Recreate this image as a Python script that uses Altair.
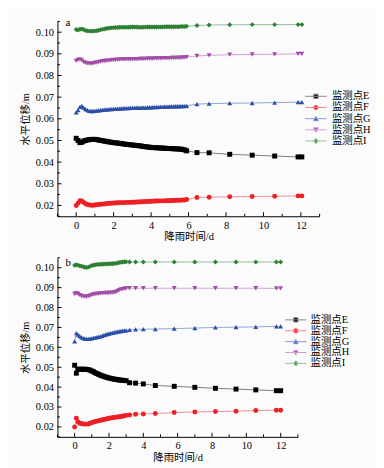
import altair as alt
import pandas as pd

FONT = "Liberation Serif, Noto Sans CJK SC"

series_names = ["监测点E", "监测点F", "监测点G", "监测点H", "监测点I"]
marker_colors = ["#000000", "#ee1f25", "#2c4fa6", "#a24ea8", "#2f7f35"]
line_colors = ["#8a8a8a", "#f48a8e", "#8a9ad6", "#cf9fd3", "#93c197"]
marker_shapes = ["square", "circle", "triangle-up", "triangle-down", "diamond"]
legend_shapes = [
    "M-3.6,0H3.6M-0.72,-0.72H0.72V0.72H-0.72Z",
    "M-3.6,0H3.6M-0.78,0A0.78,0.78,0,1,1,0.78,0A0.78,0.78,0,1,1,-0.78,0Z",
    "M-3.6,0H3.6M0,-0.8L0.8,0.7H-0.8Z",
    "M-3.6,0H3.6M0,0.8L0.8,-0.7H-0.8Z",
    "M-3.6,0H3.6M0,-0.88L0.72,0L0,0.88L-0.72,0Z",
]

x_major = [0, 2, 4, 6, 8, 10, 12]
x_minor = [-1, 1, 3, 5, 7, 9, 11, 13]
y_major = [0.02, 0.03, 0.04, 0.05, 0.06, 0.07, 0.08, 0.09, 0.10]
y_minor = [0.015, 0.025, 0.035, 0.045, 0.055, 0.065, 0.075, 0.085, 0.095, 0.105]

# ---------------- panel a ----------------
t_a = [0.0, 0.1, 0.2, 0.3, 0.4, 0.5, 0.6, 0.7, 0.8, 0.9,
       1.0, 1.1, 1.2, 1.3, 1.4, 1.5, 1.6, 1.7, 1.8, 1.9,
       2.0, 2.1, 2.2, 2.3, 2.4, 2.5, 2.6, 2.7, 2.8, 2.9,
       3.0, 3.1, 3.2, 3.3, 3.4, 3.5, 3.6, 3.7, 3.8, 3.9,
       4.0, 4.1, 4.2, 4.3, 4.4, 4.5, 4.6, 4.7, 4.8, 4.9,
       5.0, 5.1, 5.2, 5.3, 5.4, 5.5, 5.6, 5.7, 5.8, 5.9,
       6.45, 7.1, 8.2, 9.4, 10.6, 11.85, 12.05]
E_a = [0.0510, 0.0500, 0.0490, 0.0492, 0.0497, 0.0500, 0.0502, 0.0504, 0.0505, 0.0505,
       0.0505, 0.0504, 0.0502, 0.0500, 0.0499, 0.0497, 0.0496, 0.0494, 0.0493, 0.0491,
       0.0490, 0.0489, 0.0488, 0.0487, 0.0486, 0.0484, 0.0483, 0.0482, 0.0481, 0.0480,
       0.0479, 0.0478, 0.0477, 0.0476, 0.0475, 0.0474, 0.0472, 0.0471, 0.0470, 0.0469,
       0.0468, 0.0467, 0.0467, 0.0466, 0.0466, 0.0465, 0.0465, 0.0464, 0.0464, 0.0463,
       0.0463, 0.0462, 0.0462, 0.0461, 0.0461, 0.0460, 0.0460, 0.0458, 0.0456, 0.0452,
       0.0444, 0.0443, 0.0436, 0.0432, 0.0428, 0.0424, 0.0424]
F_a = [0.0200, 0.0210, 0.0222, 0.0220, 0.0214, 0.0208, 0.0204, 0.0202, 0.0201, 0.0201,
       0.0202, 0.0203, 0.0204, 0.0205, 0.0206, 0.0207, 0.0208, 0.0209, 0.0210, 0.0210,
       0.0211, 0.0211, 0.0212, 0.0212, 0.0213, 0.0213, 0.0213, 0.0214, 0.0214, 0.0214,
       0.0215, 0.0215, 0.0216, 0.0216, 0.0216, 0.0217, 0.0217, 0.0218, 0.0218, 0.0218,
       0.0219, 0.0219, 0.0220, 0.0220, 0.0220, 0.0221, 0.0221, 0.0221, 0.0222, 0.0222,
       0.0222, 0.0223, 0.0223, 0.0223, 0.0224, 0.0224, 0.0224, 0.0225, 0.0225, 0.0227,
       0.0237, 0.0238, 0.0240, 0.0241, 0.0242, 0.0244, 0.0244]
G_a = [0.0630, 0.0640, 0.0655, 0.0660, 0.0652, 0.0645, 0.0640, 0.0637, 0.0636, 0.0636,
       0.0637, 0.0638, 0.0639, 0.0640, 0.0641, 0.0642, 0.0643, 0.0644, 0.0645, 0.0645,
       0.0646, 0.0646, 0.0647, 0.0647, 0.0648, 0.0648, 0.0649, 0.0649, 0.0649, 0.0650,
       0.0650, 0.0650, 0.0651, 0.0651, 0.0651, 0.0652, 0.0652, 0.0652, 0.0653, 0.0653,
       0.0653, 0.0654, 0.0654, 0.0654, 0.0655, 0.0655, 0.0655, 0.0656, 0.0656, 0.0656,
       0.0657, 0.0657, 0.0657, 0.0658, 0.0658, 0.0658, 0.0659, 0.0659, 0.0659, 0.0660,
       0.0668, 0.0670, 0.0672, 0.0673, 0.0675, 0.0677, 0.0677]
H_a = [0.0868, 0.0872, 0.0874, 0.0870, 0.0862, 0.0858, 0.0856, 0.0855, 0.0855, 0.0856,
       0.0858, 0.0860, 0.0862, 0.0864, 0.0866, 0.0867, 0.0868, 0.0869, 0.0870, 0.0871,
       0.0872, 0.0872, 0.0873, 0.0873, 0.0874, 0.0874, 0.0874, 0.0875, 0.0875, 0.0875,
       0.0876, 0.0876, 0.0876, 0.0876, 0.0877, 0.0877, 0.0877, 0.0877, 0.0878, 0.0878,
       0.0878, 0.0878, 0.0879, 0.0879, 0.0879, 0.0879, 0.0880, 0.0880, 0.0880, 0.0880,
       0.0880, 0.0881, 0.0881, 0.0881, 0.0881, 0.0882, 0.0882, 0.0883, 0.0884, 0.0885,
       0.0890, 0.0893, 0.0896, 0.0897, 0.0898, 0.0900, 0.0900]
I_a = [0.1012, 0.1010, 0.1014, 0.1015, 0.1012, 0.1008, 0.1006, 0.1005, 0.1005, 0.1005,
       0.1006, 0.1007, 0.1009, 0.1011, 0.1013, 0.1015, 0.1017, 0.1018, 0.1019, 0.1020,
       0.1021, 0.1022, 0.1022, 0.1023, 0.1023, 0.1023, 0.1023, 0.1023, 0.1023, 0.1024,
       0.1024, 0.1024, 0.1024, 0.1023, 0.1023, 0.1023, 0.1023, 0.1024, 0.1024, 0.1024,
       0.1024, 0.1024, 0.1024, 0.1024, 0.1024, 0.1024, 0.1024, 0.1025, 0.1025, 0.1025,
       0.1025, 0.1025, 0.1025, 0.1025, 0.1025, 0.1025, 0.1026, 0.1026, 0.1026, 0.1027,
       0.1031, 0.1033, 0.1034, 0.1035, 0.1035, 0.1035, 0.1035]

# ---------------- panel b ----------------
t_b = [0.0, 0.1, 0.2, 0.3, 0.4, 0.5, 0.6, 0.7, 0.8, 0.9,
       1.0, 1.1, 1.2, 1.3, 1.4, 1.5, 1.6, 1.7, 1.8, 1.9,
       2.0, 2.1, 2.2, 2.3, 2.4, 2.5, 2.6, 2.7, 2.8, 2.9,
       3.0,
       3.2, 3.55, 4.0, 4.7, 5.8, 7.0, 8.2, 9.4, 10.55, 11.75, 12.0]
E_b = [0.0510, 0.0470, 0.0490, 0.0490, 0.0489, 0.0490, 0.0490, 0.0489, 0.0488, 0.0485,
       0.0481, 0.0477, 0.0472, 0.0468, 0.0464, 0.0460, 0.0457, 0.0454, 0.0451, 0.0448,
       0.0446, 0.0444, 0.0442, 0.0440, 0.0439, 0.0437, 0.0436, 0.0435, 0.0434, 0.0433,
       0.0432,
       0.0422, 0.0420, 0.0416, 0.0408, 0.0404, 0.0399, 0.0394, 0.0390, 0.0386, 0.0382, 0.0382]
F_b = [0.0200, 0.0244, 0.0225, 0.0218, 0.0216, 0.0215, 0.0214, 0.0214, 0.0215, 0.0218,
       0.0221, 0.0224, 0.0227, 0.0229, 0.0231, 0.0233, 0.0235, 0.0237, 0.0239, 0.0241,
       0.0243, 0.0245, 0.0246, 0.0247, 0.0249, 0.0250, 0.0251, 0.0252, 0.0254, 0.0256,
       0.0258,
       0.0260, 0.0264, 0.0265, 0.0267, 0.0272, 0.0275, 0.0277, 0.0279, 0.0282, 0.0284, 0.0284]
G_b = [0.0630, 0.0671, 0.0664, 0.0656, 0.0650, 0.0646, 0.0644, 0.0643, 0.0643, 0.0644,
       0.0645, 0.0647, 0.0649, 0.0651, 0.0653, 0.0655, 0.0658, 0.0661, 0.0664, 0.0667,
       0.0669, 0.0671, 0.0673, 0.0675, 0.0677, 0.0679, 0.0680, 0.0682, 0.0683, 0.0684,
       0.0685,
       0.0688, 0.0690, 0.0691, 0.0692, 0.0694, 0.0697, 0.0700, 0.0701, 0.0703, 0.0705, 0.0705]
H_b = [0.0868, 0.0872, 0.0868, 0.0862, 0.0858, 0.0856, 0.0855, 0.0855, 0.0857, 0.0860,
       0.0863, 0.0866, 0.0868, 0.0869, 0.0870, 0.0871, 0.0872, 0.0872, 0.0873, 0.0873,
       0.0874, 0.0874, 0.0875, 0.0876, 0.0878, 0.0883, 0.0888, 0.0891, 0.0893, 0.0895,
       0.0896,
       0.0897, 0.0897, 0.0897, 0.0897, 0.0897, 0.0897, 0.0897, 0.0897, 0.0897, 0.0896, 0.0896]
I_b = [0.1013, 0.1015, 0.1012, 0.1010, 0.1008, 0.1005, 0.1002, 0.1001, 0.1003, 0.1007,
       0.1011, 0.1013, 0.1015, 0.1016, 0.1017, 0.1018, 0.1018, 0.1019, 0.1019, 0.1019,
       0.1020, 0.1020, 0.1020, 0.1021, 0.1022, 0.1024, 0.1026, 0.1028, 0.1029, 0.1030,
       0.1030,
       0.1029, 0.1029, 0.1029, 0.1029, 0.1029, 0.1029, 0.1029, 0.1029, 0.1029, 0.1029, 0.1029]


def long_df(t, cols):
    rows = []
    for name, vals in zip(series_names, cols):
        for tt, vv in zip(t, vals):
            rows.append({"t": tt, "v": vv, "series": name})
    return pd.DataFrame(rows)


df_a = long_df(t_a, [E_a, F_a, G_a, H_a, I_a])
df_b = long_df(t_b, [E_b, F_b, G_b, H_b, I_b])


def panel(df, w, h, tag, tag_y, leg_x, leg_y, lab_off, row_pad):
    xs = alt.Scale(domain=[-1, 13], nice=False, zero=False)
    ys = alt.Scale(domain=[0.015, 0.105], nice=False, zero=False)
    x_axis = alt.Axis(values=x_major, title="降雨时间/d", ticks=False, grid=False,
                      labelPadding=4, titlePadding=1)
    y_axis = alt.Axis(values=y_major, format=".2f", title="水平位移/m", ticks=False,
                      grid=False, labelPadding=4, titlePadding=5)
    X = alt.X("t:Q", scale=xs, axis=x_axis)
    Y = alt.Y("v:Q", scale=ys, axis=y_axis)

    base = alt.Chart(df)
    lines = base.mark_line(strokeWidth=1, opacity=0.5).encode(
        x=X, y=Y,
        color=alt.Color("series:N", scale=alt.Scale(domain=series_names, range=marker_colors),
                        legend=None),
    )
    points = base.mark_point(filled=True, size=25, opacity=1).encode(
        x=X, y=Y,
        color=alt.Color("series:N", scale=alt.Scale(domain=series_names, range=marker_colors),
                        legend=None),
        shape=alt.Shape("series:N", scale=alt.Scale(domain=series_names, range=marker_shapes),
                        legend=None),
    )
    leg = alt.Legend(orient="none", legendX=leg_x, legendY=leg_y, title=None,
                     symbolSize=36, symbolStrokeWidth=1, symbolOpacity=1,
                     labelFont=FONT, labelFontSize=10.5, labelColor="black",
                     labelOffset=lab_off, rowPadding=row_pad, padding=0)
    legend_layer = base.transform_filter("datum.t < -50").mark_point(
        filled=True, strokeWidth=1
    ).encode(
        x=X, y=Y,
        color=alt.Color("series:N", scale=alt.Scale(domain=series_names, range=marker_colors),
                        legend=leg),
        stroke=alt.Stroke("series:N", scale=alt.Scale(domain=series_names, range=line_colors),
                          legend=leg),
        shape=alt.Shape("series:N", scale=alt.Scale(domain=series_names, range=legend_shapes),
                        legend=leg),
    )
    ymaj = alt.Chart(pd.DataFrame({"v": y_major})).mark_rule(color="black", strokeWidth=1).encode(
        y=Y, x=alt.value(0), x2=alt.value(4))
    ymin = alt.Chart(pd.DataFrame({"v": y_minor})).mark_rule(color="black", strokeWidth=1).encode(
        y=Y, x=alt.value(0), x2=alt.value(2.5))
    xmaj = alt.Chart(pd.DataFrame({"t": x_major})).mark_rule(color="black", strokeWidth=1).encode(
        x=X, y=alt.value(h), y2=alt.value(h - 4))
    xmin = alt.Chart(pd.DataFrame({"t": x_minor})).mark_rule(color="black", strokeWidth=1).encode(
        x=X, y=alt.value(h), y2=alt.value(h - 2.5))
    label = alt.Chart(pd.DataFrame({"lab": [tag]})).mark_text(
        align="left", baseline="alphabetic", font=FONT, fontSize=11, color="black"
    ).encode(text="lab:N", x=alt.value(8), y=alt.value(tag_y))

    return alt.layer(lines, points, legend_layer, ymaj, ymin, xmaj, xmin, label).resolve_scale(
        color="independent", shape="independent", stroke="independent"
    ).properties(width=w, height=h)


pa = panel(df_a, 265, 197, "a", 4.5, 256, 70.5, 11, 0.3)
pb = panel(df_b, 243, 181, "b", 8, 235.7, 57.5, 9.6, 0)

chart = alt.vconcat(pa, pb, spacing=15).resolve_scale(
    color="independent", shape="independent", stroke="independent",
    x="independent", y="independent"
).resolve_legend(
    color="independent", shape="independent", stroke="independent"
).properties(
    padding={"left": 12, "top": 6, "right": 5, "bottom": 5},
    background="#fbfbfb",
).configure_view(stroke=None).configure_axis(
    domainColor="black", domainWidth=1,
    labelFont=FONT, titleFont=FONT, labelFontSize=10.5, titleFontSize=10.5,
    labelColor="black", titleColor="black", titleFontWeight="normal",
)

chart.save("out.html", embed_options={"renderer": "svg", "actions": False})
